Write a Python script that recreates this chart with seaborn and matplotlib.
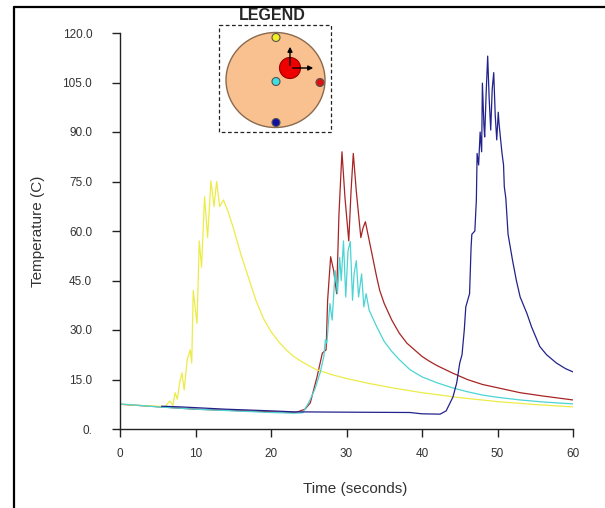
import matplotlib
matplotlib.use("Agg")
import matplotlib.pyplot as plt
from matplotlib.patches import Ellipse, Circle, Rectangle
from matplotlib.lines import Line2D
import seaborn as sns

# thermocouple readings (time in s, temperature in C)
yellow_t = [0, 3, 6.0, 6.6, 7.0, 7.3, 7.6, 7.9, 8.2, 8.5, 8.9, 9.3, 9.5, 9.7, 10.2, 10.5, 10.8,
            11.2, 11.6, 12.05, 12.45, 12.8, 13.2, 13.7, 14.3, 15, 15.5, 16, 17, 18, 19, 20,
            21, 22, 23, 24, 25, 26, 28, 30, 33, 36, 40, 45, 50, 55, 60]
yellow_T = [7.5, 7.1, 6.8, 8.5, 7.2, 11, 9, 14, 17, 11.8, 21, 24, 20, 42, 32, 57, 49,
            70.4, 58, 75.2, 67.4, 75, 67.4, 69.4, 66, 61, 57, 53, 46, 39, 33.5, 29.5,
            26.5, 24, 22, 20.5, 19.2, 18, 16.5, 15.3, 13.8, 12.5, 11, 9.5, 8.3, 7.4, 6.7]

cyan_t = [0, 5, 10, 15, 20, 23, 24.2, 25, 25.8, 26.5, 27.0, 27.2, 27.4, 27.8, 28.1, 28.5, 28.8,
          29.1, 29.3, 29.6, 29.9, 30.2, 30.5, 30.8, 31.0, 31.3, 31.6, 32.0, 32.3, 32.6, 33,
          34, 35, 36, 37, 38.4, 40, 42, 44, 46, 48, 50, 53, 56, 60]
cyan_T = [7.6, 6.7, 6.0, 5.5, 5.0, 4.8, 4.9, 8, 12, 17, 22, 27, 26, 38, 33, 48, 41,
          52, 45, 57, 40, 54, 56.8, 39, 47, 51, 40, 47, 37, 41, 36,
          31, 26.5, 23.5, 21, 18, 15.8, 14, 12.5, 11.3, 10.3, 9.6, 8.8, 8.2, 7.6]

red_t = [0, 10, 20, 23.3, 24.5, 25.2, 26.1, 26.8, 27.3, 27.5, 27.9, 28.3, 28.7, 29.0, 29.4,
         29.8, 30.3, 30.6, 30.9, 31.3, 31.9, 32.2, 32.5, 33.2, 34, 34.4, 35, 36, 37, 38, 39,
         40, 41, 42, 44, 46, 48, 50, 53, 56, 60]
red_T = [7.5, 6, 5.2, 5.0, 6, 7.9, 15.8, 23, 24, 39, 52.2, 48, 41, 65, 84,
         70, 57, 72, 83.5, 72, 58, 61, 62.8, 55, 46, 42, 38, 33, 29, 26, 24,
         22, 20.5, 19.2, 17, 15, 13.5, 12.5, 11, 10, 8.8]

blue_t = [5.5, 8, 14, 20, 23, 30, 38.4, 40, 42.4, 43.2, 44.1, 44.6, 45, 45.3, 45.6, 45.8, 46.3,
          46.5, 46.6, 47.0, 47.2, 47.3, 47.5, 47.7, 47.9, 48.0, 48.2, 48.3, 48.5, 48.7, 48.9,
          49.1, 49.3, 49.5, 49.7, 49.9, 50.1, 50.2, 50.4, 50.6, 50.8, 50.9, 51.1, 51.4, 52,
          52.5, 53, 53.9, 54.5, 55.6, 56.5, 57.8, 59, 60]
blue_T = [6.9, 6.7, 6.0, 5.5, 5.2, 5.1, 5.0, 4.6, 4.5, 5.5, 9.7, 14, 20, 22.5, 30, 37, 41,
          55, 59, 60, 69.4, 83.5, 80, 90, 84, 104.8, 92, 88.5, 102, 113, 100,
          90.6, 103, 108, 95, 87.6, 96, 92.7, 88, 83.5, 80, 73.4, 70, 59, 51,
          45, 40, 35, 31, 25, 22.5, 20, 18.3, 17.3]

x_ticks = [0, 10, 20, 30, 40, 50, 60]
y_ticks = [0, 15, 30, 45, 60, 75, 90, 105, 120]
y_tick_labels = ["0.", "15.0", "30.0", "45.0", "60.0", "75.0", "90.0", "105.0", "120.0"]

sns.set_style("ticks")
plt.rcParams["font.family"] = ["Liberation Sans", "DejaVu Sans"]

fig = plt.figure(figsize=(6.05, 5.08), dpi=100)
ax = fig.add_axes([120 / 605, 1 - 429 / 508, 453 / 605, 396 / 508])

series = [
    (red_t, red_T, "#a82424"),
    (yellow_t, yellow_T, "#ecec48"),
    (cyan_t, cyan_T, "#4cd4d4"),
    (blue_t, blue_T, "#22228c"),
]
for t, T, c in series:
    sns.lineplot(x=t, y=T, color=c, linewidth=0.9, sort=False, estimator=None, ax=ax)

ax.set_xlim(0, 60)
ax.set_ylim(0, 120)
ax.set_xticks(x_ticks)
ax.set_yticks(y_ticks)
ax.set_yticklabels(y_tick_labels)
for lab in ax.get_xticklabels() + ax.get_yticklabels():
    lab.set_fontsize(8.5)
    lab.set_color("#333333")
ax.tick_params(axis="y", length=6, width=1, pad=14, color="#222222")
ax.tick_params(axis="x", length=6, width=1, pad=8, color="#222222")
for s in ["top", "right"]:
    ax.spines[s].set_visible(False)
for s in ["left", "bottom"]:
    ax.spines[s].set_color("#222222")
    ax.spines[s].set_linewidth(1)

ax.set_xlabel("Time (seconds)", fontsize=11, color="#333333")
ax.set_ylabel("Temperature (C)", fontsize=11, color="#333333")
ax.xaxis.set_label_coords((355 - 120) / 453, -(482 - 429) / 396)
ax.yaxis.set_label_coords(-(120 - 45) / 453, 0.5)

# overlay in pixel coordinates for frame and legend sketch
ov = fig.add_axes([0, 0, 1, 1], zorder=5)
ov.set_xlim(0, 605)
ov.set_ylim(508, 0)
ov.axis("off")
ov.patch.set_alpha(0)

ov.add_line(Line2D([14, 14], [7, 508], color="black", linewidth=1.6))
ov.add_line(Line2D([14, 605], [7, 7], color="black", linewidth=1.6))

ov.add_patch(Rectangle((219, 25), 112, 107, fill=False, edgecolor="#222222",
                       linestyle=(0, (3, 2)), linewidth=0.9))
ov.text(272, 15, "LEGEND", ha="center", va="center", fontsize=11.5, fontweight="bold")
ov.add_patch(Ellipse((275.5, 80), 99, 95, facecolor="#f9c18f", edgecolor="#8a6a4e", linewidth=1))
ov.add_patch(Circle((290, 68), 10.5, facecolor="#ee0000", edgecolor="#990000", linewidth=0.8))
dots = [((276, 37.5), "#f4ee20"), ((276, 81.5), "#40dede"), ((320, 82.5), "#e01010"),
        ((276, 122.5), "#1010a0")]
for (cx, cy), c in dots:
    ov.add_patch(Circle((cx, cy), 4, facecolor=c, edgecolor="#555555", linewidth=0.8))
ov.annotate("", xy=(290, 44), xytext=(290, 68),
            arrowprops=dict(arrowstyle="-|>", color="black", lw=1, mutation_scale=7))
ov.annotate("", xy=(316, 68), xytext=(290, 68),
            arrowprops=dict(arrowstyle="-|>", color="black", lw=1, mutation_scale=7))

fig.savefig("out.png", dpi=100)
